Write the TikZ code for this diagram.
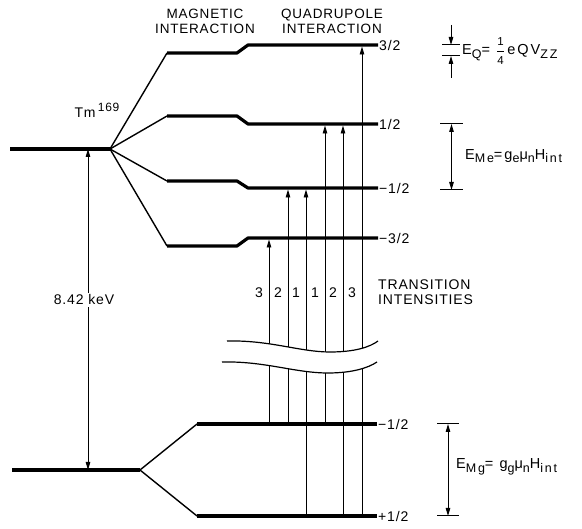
\documentclass[tikz,border=0pt]{standalone}
\usepackage{amsmath}
\usepackage{fontspec}
\setmainfont{Liberation Sans}[LetterSpace=6]
\newfontfamily\formfont{Liberation Sans}[LetterSpace=14]
\newcommand{\subtxt}[1]{\raisebox{-3.5pt}{\fontsize{12.5}{13}\selectfont #1}}
\usetikzlibrary{calc,arrows.meta}

\begin{document}
\begin{tikzpicture}[x=1pt,y=-1pt,
  level/.style={line width=3.2pt,line join=round},
  split/.style={line width=1.4pt},
  trans/.style={line width=0.9pt,shorten >=1.5pt,-{Triangle[length=8pt,width=4.5pt]}},
  gap/.style={line width=0.9pt,{Triangle[length=8pt,width=4.5pt]}-{Triangle[length=8pt,width=4.5pt]}},
  fence/.style={line width=1pt},
  lbl/.style={font=\fontsize{14}{15}\selectfont,inner sep=1pt},
  form/.style={font=\formfont\fontsize{14.5}{15}\selectfont,inner sep=1pt,anchor=west}]
\useasboundingbox (0,0) rectangle (582,529);
% excited state and its magnetic / quadrupole sublevels
\coordinate (Ex) at (10,149);
\coordinate (Exs) at (110,149);
\draw[level] (Ex) -- (Exs);
\foreach \n/\ym/\yq/\t in {a/53/45/{3/2}, b/116/124/{1/2}, c/181/188/{−1/2}, d/246/238/{−3/2}}{
  \coordinate (m\n) at (167,\ym);
  \coordinate (m\n e) at (237,\ym);
  \coordinate (q\n) at (248,\yq);
  \coordinate (q\n e) at (378,\yq);
  \draw[split] (Exs) -- (m\n);
  \draw[level] (m\n) -- (m\n e) -- (q\n) -- (q\n e);
  \node[lbl,anchor=west] (l\n) at (q\n e) {\t};
}
% ground state
\coordinate (Gr) at (12,470);
\coordinate (Grs) at (140,470);
\coordinate (g1) at (197,424);
\coordinate (g1e) at (377,424);
\coordinate (g2) at (197,516);
\coordinate (g2e) at (377,516);
\draw[level] (Gr) -- (Grs);
\draw[split] (Grs) -- (g1);
\draw[split] (Grs) -- (g2);
\draw[level] (g1) -- (g1e);
\draw[level] (g2) -- (g2e);
\node[lbl,anchor=west] (lg1) at (g1e) {−1/2};
\node[lbl,anchor=west] (lg2) at (g2e) {+1/2};
% transitions
\foreach \x/\lo/\hi/\i in {269/g1/qd/3, 288/g1/qc/2, 306/g2/qc/1, 325/g1/qb/1, 343/g2/qb/2, 362/g2/qa/3}{
  \draw[trans] (\x,0 |- \lo) -- (\x,0 |- \hi);
  \node[lbl] (i\x) at (\x-10,293) {\i};
}
% break in the lines
\fill[white] (227,341) .. controls (270,340) and (300,352) .. (330,352) .. controls (355,352) and (370,347) .. (378,341)
  -- (377,362) .. controls (368,368) and (352,373) .. (328,373) .. controls (295,373) and (265,361) .. (222,362) -- cycle;
\draw[line width=1.2pt] (227,341) .. controls (270,340) and (300,352) .. (330,352) .. controls (355,352) and (370,347) .. (378,341);
\draw[line width=1.2pt] (222,362) .. controls (265,361) and (295,373) .. (328,373) .. controls (352,373) and (368,368) .. (377,362);
% gamma energy
\draw[gap] (88,0 |- Exs) -- (88,0 |- Gr) node[lbl,pos=0.47,fill=white,xshift=-4pt,inner sep=2pt] (kev) {8.42 keV};
\node[lbl] (tm) at (97,110) {Tm\,\raisebox{6pt}{\fontsize{12}{12}\selectfont 169}};
% headings
\node[lbl,font=\fontsize{13.5}{15}\selectfont,align=center] (mag) at (205,21) {MAGNETIC\\INTERACTION};
\node[lbl,font=\fontsize{13.5}{15}\selectfont,align=center] (quad) at (332,21) {QUADRUPOLE\\INTERACTION};
\node[lbl,align=left,anchor=west] (ti) at (377,292) {TRANSITION\\INTENSITIES};
% splitting energies
\coordinate (qt1) at (442,45);
\coordinate (qt1e) at (460,45);
\coordinate (qt2) at (442,56);
\coordinate (qt2e) at (460,56);
\coordinate (qa1) at (451,25);
\coordinate (qa2) at (451,78);
\draw[fence] (qt1) -- (qt1e);
\draw[fence] (qt2) -- (qt2e);
\draw[gap,-{Triangle[length=8pt,width=4.5pt]}] (qa1) -- (qa1 |- qt1);
\draw[gap,-{Triangle[length=8pt,width=4.5pt]}] (qa2) -- (qa2 |- qt2);
\node[form] (eq) at (461,51) {E\subtxt{Q}= $\dfrac{\text{\fontsize{11.5}{12}\selectfont 1}}{\text{\fontsize{11.5}{12}\selectfont 4}}$\,eQV\subtxt{ZZ}};
\coordinate (et1) at (440,124);
\coordinate (et1e) at (463,124);
\coordinate (et2) at (440,190);
\coordinate (et2e) at (463,190);
\draw[fence] (et1) -- (et1e);
\draw[fence] (et2) -- (et2e);
\draw[gap] ($(et1)!0.5!(et1e)$) -- ($(et2)!0.5!(et2e)$);
\node[form] (eme) at (464,156) {E\subtxt{Me}=g\subtxt{e}μ\subtxt{n}H\subtxt{int}};
\coordinate (gt1) at (437,424);
\coordinate (gt1e) at (459,424);
\coordinate (gt2) at (437,516);
\coordinate (gt2e) at (459,516);
\draw[fence] (gt1) -- (gt1e);
\draw[fence] (gt2) -- (gt2e);
\draw[gap] ($(gt1)!0.5!(gt1e)$) -- ($(gt2)!0.5!(gt2e)$);
\node[form] (emg) at (455,467) {E\subtxt{Mg}= g\subtxt{g}μ\subtxt{n}H\subtxt{int}};
\end{tikzpicture}
\end{document}
